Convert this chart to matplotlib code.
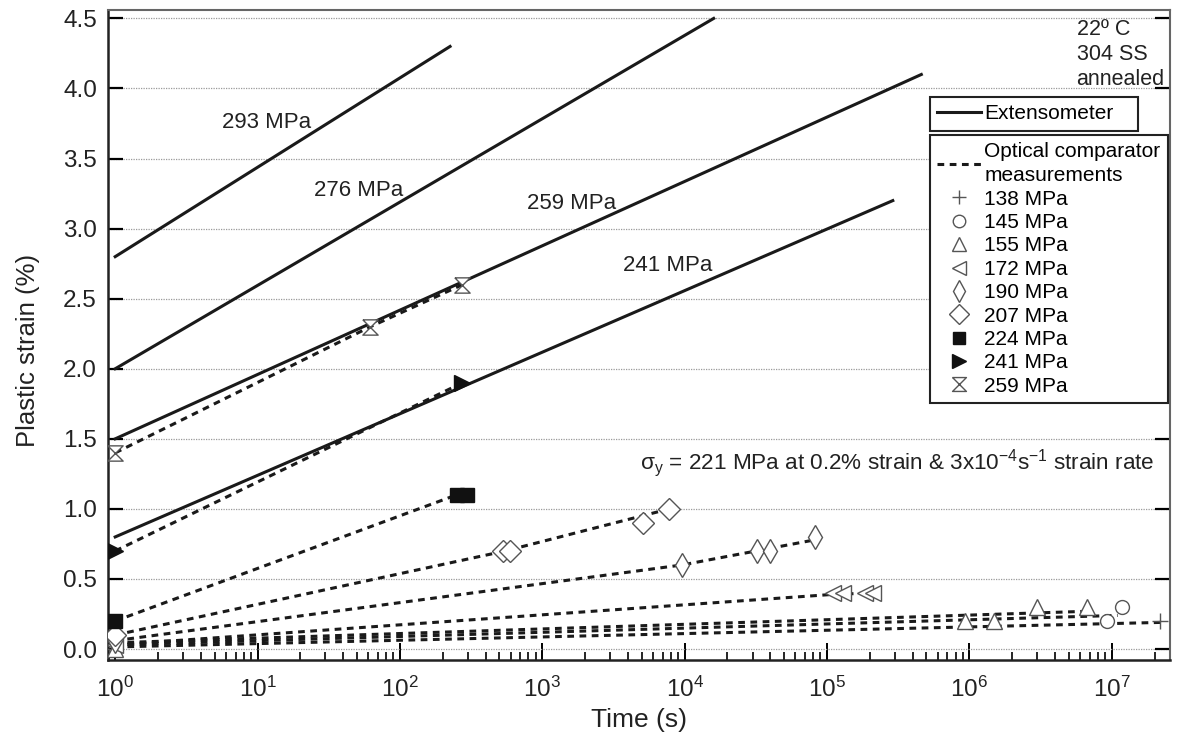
import matplotlib
matplotlib.use('Agg')
import matplotlib.pyplot as plt
from matplotlib.lines import Line2D
from matplotlib.ticker import (LogLocator, NullFormatter, MultipleLocator,
                               FormatStrFormatter, FixedLocator, LogFormatterSciNotation)

plt.rcParams['font.family'] = ['Liberation Sans', 'DejaVu Sans']
plt.rcParams['mathtext.fontset'] = 'custom'
plt.rcParams['mathtext.rm'] = 'Liberation Sans'
plt.rcParams['mathtext.it'] = 'Liberation Sans'
plt.rcParams['mathtext.default'] = 'regular'

# extensometer curves (solid): stress, time, strain
ext_labels = ['293 MPa', '276 MPa', '259 MPa', '241 MPa']
ext_t = [[1, 225], [1, 16000], [1, 4.6e5], [1, 2.9e5]]
ext_e = [[2.8, 4.3], [2.0, 4.5], [1.5, 4.1], [0.8, 3.2]]
ext_lab_t = [5.6, 25, 780, 3700]
ext_lab_e = [3.76, 3.27, 3.18, 2.74]

# optical comparator: measured points
opt_labels = ['138 MPa', '145 MPa', '155 MPa', '172 MPa', '190 MPa',
              '207 MPa', '224 MPa', '241 MPa', '259 MPa']
pt_t = [[1, 2.2e7],
        [1, 9.3e6, 1.18e7],
        [1, 9.3e5, 1.5e6, 3.0e6, 6.7e6],
        [1, 1.1e5, 1.3e5, 1.85e5, 2.1e5],
        [1, 9600, 32000, 40000, 83000],
        [1, 530, 590, 5100, 7800],
        [1, 250, 295],
        [1, 275],
        [1, 62, 275]]
pt_e = [[0.0, 0.2],
        [0.08, 0.2, 0.3],
        [0.0, 0.2, 0.2, 0.3, 0.3],
        [0.03, 0.4, 0.4, 0.4, 0.4],
        [0.06, 0.6, 0.7, 0.7, 0.8],
        [0.1, 0.7, 0.7, 0.9, 1.0],
        [0.2, 1.1, 1.1],
        [0.7, 1.9],
        [1.4, 2.3, 2.6]]
# dashed fit lines
fit_t = [[1, 2.2e7],
         [1, 1.1e7],
         [1, 7e6],
         [1, 1.1e5, 2.1e5],
         [1, 9600, 83000],
         [1, 550, 7800],
         [1, 250],
         [1, 275],
         [1, 62, 275]]
fit_e = [[0.015, 0.19],
         [0.03, 0.24],
         [0.045, 0.27],
         [0.03, 0.39, 0.4],
         [0.06, 0.6, 0.78],
         [0.1, 0.7, 1.0],
         [0.2, 1.1],
         [0.7, 1.9],
         [1.4, 2.3, 2.6]]

x_major = [1, 10, 100, 1e3, 1e4, 1e5, 1e6, 1e7]

hourglass = [(-1, 1), (1, 1), (-1, -1), (1, -1), (-1, 1)]
markers = ['+', 'o', '^', '<', 'd', 'D', 's', '>', hourglass]
filled = [False, False, False, False, False, False, True, True, False]
msizes = [11, 10, 11, 11, 12, 11, 10, 11, 11]

fig = plt.figure(figsize=(11.79, 7.47), dpi=100)
ax = fig.add_axes([0.0916, 0.1165, 0.9008, 0.8701])

for i in range(len(ext_t)):
    ax.plot(ext_t[i], ext_e[i], '-', color='#1a1a1a', lw=2.2, zorder=3)
    ax.text(ext_lab_t[i], ext_lab_e[i], ext_labels[i], fontsize=16,
            va='center', ha='left', color='#222222', zorder=2)

for i in range(len(opt_labels)):
    ax.plot(fit_t[i], fit_e[i], color='#1a1a1a', lw=2.2, zorder=3,
            dashes=(2.2, 1.8))
    ec = '#111111' if filled[i] else '#555555'
    fc = '#111111' if filled[i] else 'white'
    ax.plot(pt_t[i], pt_e[i], ls='none', marker=markers[i], ms=msizes[i],
            mec=ec, mfc=fc, mew=1.0, zorder=5)

ax.set_xscale('log')
ax.set_xlim(0.89, 2.57e7)
ax.set_ylim(-0.078, 4.56)
ax.yaxis.set_major_locator(MultipleLocator(0.5))
ax.yaxis.set_major_formatter(FormatStrFormatter('%.1f'))
ax.xaxis.set_major_locator(FixedLocator(x_major))
ax.xaxis.set_major_formatter(LogFormatterSciNotation())
ax.xaxis.set_minor_locator(LogLocator(base=10, subs=range(2, 10), numticks=12))
ax.xaxis.set_minor_formatter(NullFormatter())
ax.grid(axis='y', ls=(0, (1, 1)), color='#9a9a9a', lw=0.9, zorder=0)

ax.tick_params(axis='y', which='major', direction='in', length=11, width=1.6,
               labelsize=17.5, pad=8, right=True)
ax.tick_params(axis='x', which='major', direction='in', length=12, width=1.4,
               labelsize=17.5, pad=12)
ax.tick_params(axis='x', which='minor', direction='in', length=6, width=1.2)
for lab in ax.get_xticklabels() + ax.get_yticklabels():
    lab.set_color('#222222')
for side in ['left', 'bottom']:
    ax.spines[side].set_linewidth(1.8)
    ax.spines[side].set_color('#222222')
for side in ['top', 'right']:
    ax.spines[side].set_linewidth(1.5)
    ax.spines[side].set_color('#666666')

ax.set_ylabel('Plastic strain (%)', fontsize=18.5, color='#222222', va='center')
ax.yaxis.set_label_coords(-0.075, 0.477)
ax.set_xlabel('Time (s)', fontsize=19, color='#222222', va='center')
ax.xaxis.set_label_coords(0.5, -0.092)

ax.text(0.912, 0.986, '22º C\n304 SS\nannealed', transform=ax.transAxes,
        fontsize=15.5, ha='left', va='top', linespacing=1.25, color='#222222')

ax.text(10 ** 3.69, 1.33,
        r'$\sigma_y$ = 221 MPa at 0.2% strain & 3x10$^{-4}$s$^{-1}$ strain rate',
        fontsize=16.2, ha='left', va='center', color='#222222', zorder=4,
        bbox=dict(facecolor='white', edgecolor='none', pad=2))

# legends
h1 = [Line2D([], [], color='#1a1a1a', lw=2.2)]
leg1 = ax.legend(h1, ['Extensometer'], loc='upper left', mode='expand',
                 bbox_to_anchor=(0.774, 0.815, 0.196, 0.051), fontsize=15,
                 frameon=True, fancybox=False, edgecolor='#222222',
                 framealpha=1, handlelength=2.1, handletextpad=0.15,
                 borderpad=0.35, borderaxespad=0)
leg1.get_frame().set_linewidth(1.5)
leg1.set_zorder(6)
ax.add_artist(leg1)

h2 = [Line2D([], [], color='#1a1a1a', lw=2.2, dashes=(2.2, 1.8))]
l2 = ['Optical comparator\nmeasurements']
for i in range(len(opt_labels)):
    ec = '#111111' if filled[i] else '#555555'
    fc = '#111111' if filled[i] else 'white'
    h2.append(Line2D([], [], ls='none', marker=markers[i], ms=msizes[i] - 1,
                     mec=ec, mfc=fc, mew=1.0))
    l2.append(opt_labels[i])
leg2 = ax.legend(h2, l2, loc='upper left', mode='expand',
                 bbox_to_anchor=(0.774, 0.362, 0.224, 0.446),
                 fontsize=15, frameon=True, fancybox=False,
                 edgecolor='#222222', framealpha=1, handlelength=2.1,
                 handletextpad=0.15, borderpad=0.35, labelspacing=0.21,
                 borderaxespad=0)
leg2.get_texts()[0].set_linespacing(1.35)
leg2.get_frame().set_linewidth(1.5)
leg2.set_zorder(6)

fig.savefig('out.png', dpi=100)
